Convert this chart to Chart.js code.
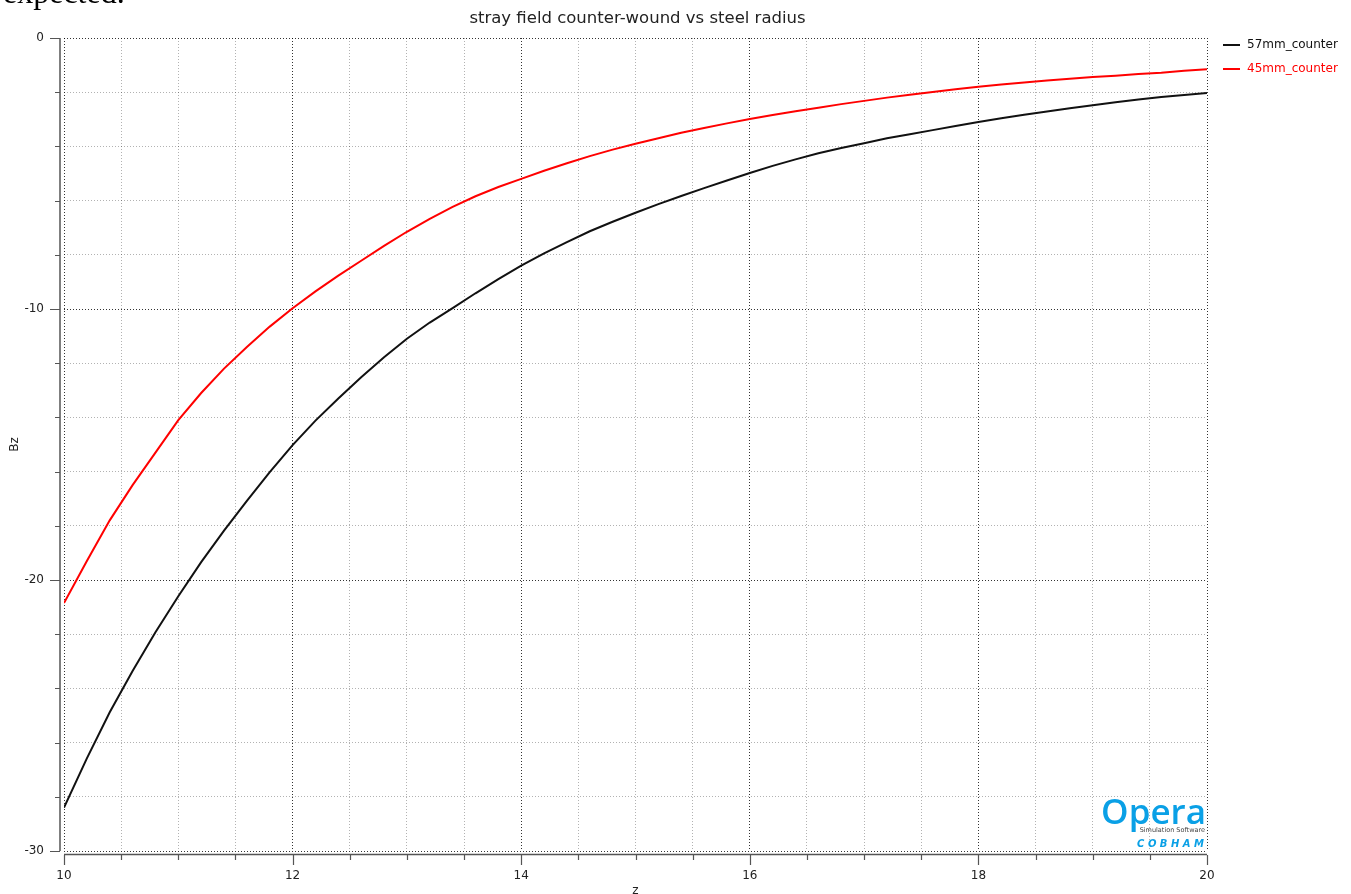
<!DOCTYPE html>
<html>
<head>
<meta charset="utf-8">
<title>stray field counter-wound vs steel radius</title>
<script src="https://cdn.jsdelivr.net/npm/chart.js@4.4.0/dist/chart.umd.min.js"></script>
<style>
  html, body { margin: 0; padding: 0; background: #fff; }
  #wrap { position: relative; width: 1351px; height: 894px; overflow: hidden; }
</style>
</head>
<body>
<div id="wrap"><canvas id="fieldChart" width="1351" height="894"></canvas></div>
<script>
// z positions of the field samples
const zValues = [
  10.0, 10.2, 10.4, 10.6, 10.8, 11.0, 11.2, 11.4, 11.6, 11.8,
  12.0, 12.2, 12.4, 12.6, 12.8, 13.0, 13.2, 13.4, 13.6, 13.8,
  14.0, 14.2, 14.4, 14.6, 14.8, 15.0, 15.2, 15.4, 15.6, 15.8,
  16.0, 16.2, 16.4, 16.6, 16.8, 17.0, 17.2, 17.4, 17.6, 17.8,
  18.0, 18.2, 18.4, 18.6, 18.8, 19.0, 19.2, 19.4, 19.6, 19.8, 20.0
];

// Bz along z, 57 mm steel radius
const bz57 = [
  -28.4, -26.58, -24.88, -23.36, -21.93, -20.6, -19.34, -18.18, -17.08, -16.02,
  -15.02, -14.12, -13.3, -12.52, -11.78, -11.1, -10.5, -9.97, -9.42, -8.9,
  -8.4, -7.95, -7.53, -7.13, -6.78, -6.45, -6.13, -5.83, -5.54, -5.26,
  -4.98, -4.72, -4.48, -4.25, -4.06, -3.88, -3.7, -3.55, -3.4, -3.25,
  -3.1, -2.96, -2.83, -2.71, -2.59, -2.48, -2.37, -2.27, -2.18, -2.1, -2.03
];

// Bz along z, 45 mm steel radius
const bz45 = [
  -20.85, -19.3, -17.8, -16.5, -15.3, -14.1, -13.1, -12.2, -11.4, -10.65,
  -9.97, -9.35, -8.77, -8.22, -7.67, -7.15, -6.67, -6.23, -5.84, -5.5,
  -5.2, -4.9, -4.62, -4.36, -4.12, -3.9, -3.7, -3.5, -3.32, -3.15,
  -2.99, -2.84, -2.7, -2.57, -2.44, -2.32, -2.2, -2.09, -1.99, -1.89,
  -1.8, -1.72, -1.64, -1.57, -1.5, -1.44, -1.39, -1.33, -1.28, -1.21, -1.15
];

const seriesNames = ["57mm_counter", "45mm_counter"];
const seriesColors = ["#111111", "#ff0000"];

// labelled (major) ticks; the rest are minor ticks
const zMajorTicks = [10, 12, 14, 16, 18, 20];
const bzMajorTicks = [0, -10, -20, -30];

const chartTitle = "stray field counter-wound vs steel radius";

const MAJOR_GRID = "rgba(0,0,0,0.8)";
const MINOR_GRID = "rgba(0,0,0,0.3)";
const FONT = "'DejaVu Sans', sans-serif";

function toPoints(ys) {
  return zValues.map((z, i) => ({ x: z, y: ys[i] }));
}

// axis lines sit a few pixels outside the plot frame, ticks point outward
const offsetAxes = {
  id: "offsetAxes",
  afterDraw(chart) {
    const { ctx, chartArea: a, scales: { x, y } } = chart;
    ctx.save();
    ctx.strokeStyle = "#555";
    ctx.lineWidth = 1.5;
    ctx.beginPath();
    ctx.moveTo(a.left - 4, a.top);
    ctx.lineTo(a.left - 4, a.bottom);
    ctx.moveTo(a.left, a.bottom + 3.5);
    ctx.lineTo(a.right, a.bottom + 3.5);
    ctx.stroke();

    ctx.lineWidth = 1.2;
    ctx.beginPath();
    y.ticks.forEach(t => {
      const py = Math.round(y.getPixelForValue(t.value)) + 0.5;
      const len = bzMajorTicks.includes(t.value) ? 10 : 5;
      ctx.moveTo(a.left - 4, py);
      ctx.lineTo(a.left - 4 - len, py);
    });
    x.ticks.forEach(t => {
      const px = Math.round(x.getPixelForValue(t.value)) + 0.5;
      const len = zMajorTicks.includes(t.value) ? 10 : 5;
      ctx.moveTo(px, a.bottom + 4);
      ctx.lineTo(px, a.bottom + 4 + len);
    });
    ctx.stroke();
    ctx.restore();
  }
};

// title, legend and the software badge
const annotations = {
  id: "annotations",
  afterDraw(chart) {
    const { ctx, chartArea: a } = chart;
    ctx.save();

    // text of the page this chart sits under
    ctx.fillStyle = "#000";
    ctx.font = "32px 'Liberation Serif', serif";
    ctx.textAlign = "left";
    ctx.textBaseline = "alphabetic";
    ctx.fillText("expected.", 3, 3);

    ctx.fillStyle = "#222";
    ctx.font = "16.5px " + FONT;
    ctx.textAlign = "center";
    ctx.textBaseline = "middle";
    ctx.fillText(chartTitle, (a.left + a.right) / 2 + 2, 19);

    ctx.font = "12px " + FONT;
    ctx.textAlign = "left";
    chart.data.datasets.forEach((ds, i) => {
      const ly = 45 + i * 24;
      ctx.strokeStyle = ds.borderColor;
      ctx.lineWidth = 2;
      ctx.beginPath();
      ctx.moveTo(a.right + 16, ly);
      ctx.lineTo(a.right + 33, ly);
      ctx.stroke();
      ctx.fillStyle = i === 0 ? "#111" : ds.borderColor;
      ctx.fillText(ds.label, a.right + 40, ly);
    });

    ctx.fillStyle = "#0aa0e6";
    ctx.font = "600 35px 'Open Sans', sans-serif";
    ctx.textAlign = "right";
    ctx.textBaseline = "alphabetic";
    ctx.fillText("Opera", a.right - 1, a.bottom - 27);
    ctx.fillStyle = "#444";
    ctx.font = "6.5px " + FONT;
    ctx.fillText("Simulation Software", a.right - 2, a.bottom - 19);
    ctx.fillStyle = "#0aa0e6";
    ctx.font = "italic bold 10px " + FONT;
    ctx.fillText("C O B H A M", a.right - 3, a.bottom - 4);
    ctx.restore();
  }
};

new Chart(document.getElementById("fieldChart"), {
  type: "line",
  data: {
    datasets: [
      {
        label: seriesNames[0],
        data: toPoints(bz57),
        borderColor: seriesColors[0],
        borderWidth: 2,
        pointRadius: 0,
        tension: 0,
        fill: false
      },
      {
        label: seriesNames[1],
        data: toPoints(bz45),
        borderColor: seriesColors[1],
        borderWidth: 2,
        pointRadius: 0,
        tension: 0,
        fill: false
      }
    ]
  },
  options: {
    responsive: false,
    animation: false,
    devicePixelRatio: 1,
    layout: { padding: { top: 38, right: 144, left: 0, bottom: 0 } },
    plugins: {
      legend: { display: false },
      title: { display: false },
      tooltip: { enabled: false }
    },
    scales: {
      x: {
        type: "linear",
        min: 10,
        max: 20,
        afterFit(s) { s.height = 43; },
        border: { display: false, dash: [1, 2] },
        grid: {
          drawTicks: false,
          lineWidth: 1,
          color: c => zMajorTicks.includes(c.tick && c.tick.value) ? MAJOR_GRID : MINOR_GRID
        },
        ticks: {
          stepSize: 0.5,
          autoSkip: false,
          maxRotation: 0,
          padding: 18,
          color: "#222",
          font: { family: FONT, size: 12 },
          callback: v => zMajorTicks.includes(v) ? String(v) : ""
        },
        title: {
          display: true,
          text: "z",
          color: "#222",
          font: { family: FONT, size: 12 },
          padding: { top: 0, bottom: -4 }
        }
      },
      y: {
        type: "linear",
        min: -30,
        max: 0,
        afterFit(s) { s.width = 64; },
        border: { display: false, dash: [1, 2] },
        grid: {
          drawTicks: false,
          lineWidth: 1,
          color: c => bzMajorTicks.includes(c.tick && c.tick.value) ? MAJOR_GRID : MINOR_GRID
        },
        ticks: {
          stepSize: 2,
          autoSkip: false,
          padding: 20,
          color: "#222",
          font: { family: FONT, size: 12 },
          callback: v => bzMajorTicks.includes(v) ? String(v) : ""
        },
        title: {
          display: true,
          text: "Bz",
          color: "#222",
          font: { family: FONT, size: 12 },
          padding: { top: 8, bottom: 0 }
        }
      }
    }
  },
  plugins: [offsetAxes, annotations]
});
</script>
</body>
</html>
